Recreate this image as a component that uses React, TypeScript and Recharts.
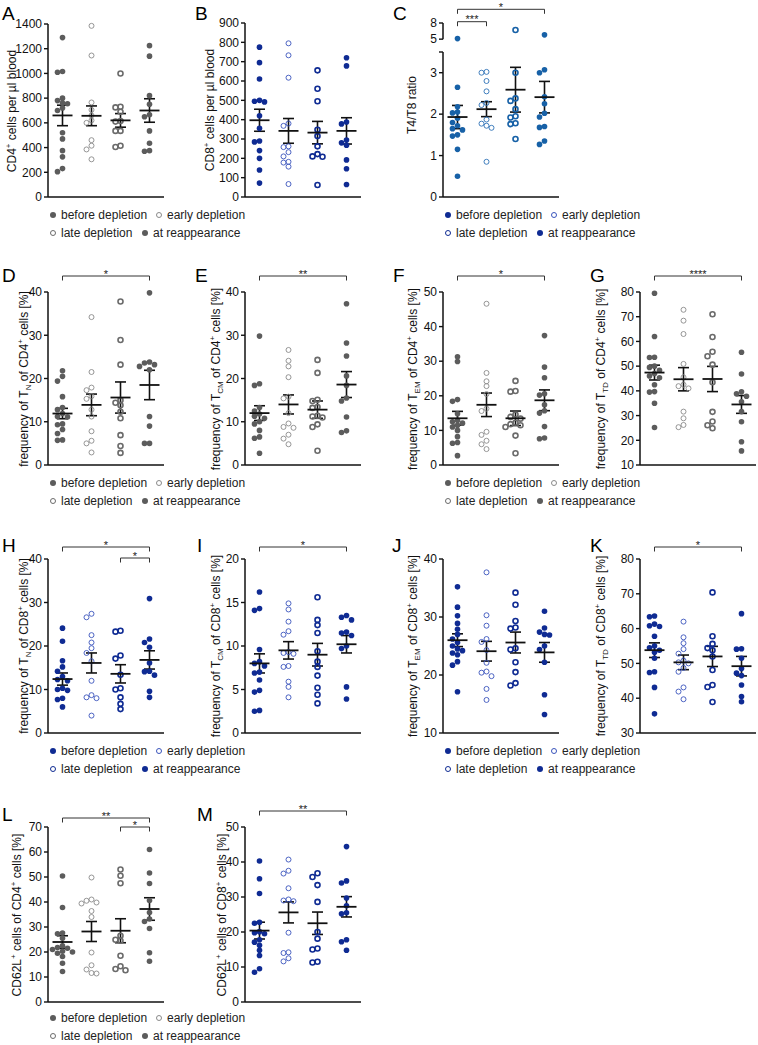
import React from "react";
import {
  ScatterChart,
  Scatter,
  XAxis,
  YAxis,
  ErrorBar,
  ReferenceLine,
} from "recharts";

const FONT = '"Liberation Sans", Arial, Helvetica, sans-serif';

const groups = ["before depletion", "early depletion", "late depletion", "at reappearance"];

// A - CD4+ cells per µl blood
const cd4Count = [
  [1290, 1015, 1010, 800, 780, 760, 755, 720, 700, 520, 470, 375, 325, 230, 205],
  [1385, 1145, 765, 705, 660, 620, 600, 460, 415, 385, 305],
  [1000, 730, 725, 690, 615, 610, 535, 535, 415, 405],
  [1225, 1140, 820, 750, 665, 650, 535, 435, 375, 370],
];
const cd4CountMean = [660, 657, 620, 700];
const cd4CountSem = [83, 80, 55, 95];
const cd4CountTicks = [0, 200, 400, 600, 800, 1000, 1200, 1400];

// B - CD8+ cells per µl blood
const cd8Count = [
  [775, 695, 610, 500, 495, 492, 420, 355, 290, 285, 240, 200, 140, 72],
  [795, 733, 617, 380, 368, 262, 258, 232, 210, 182, 178, 157, 67],
  [655, 560, 495, 348, 315, 262, 222, 210, 208, 62],
  [720, 678, 388, 378, 295, 280, 268, 192, 146, 65],
];
const cd8CountMean = [397, 342, 333, 342];
const cd8CountSem = [57, 64, 58, 68];
const cd8CountTicks = [0, 100, 200, 300, 400, 500, 600, 700, 800, 900];

// C - T4/T8 ratio (broken axis between 3.5 and 5)
const ratio = [
  [5.1, 2.65, 2.18, 2.05, 2.03, 1.9, 1.8, 1.72, 1.65, 1.62, 1.5, 1.47, 1.15, 0.5],
  [3.02, 3.0, 2.8, 2.55, 2.27, 2.22, 1.87, 1.77, 1.72, 1.67, 0.85],
  [6.7, 3.0, 2.38, 2.32, 2.12, 1.95, 1.92, 1.78, 1.76, 1.4],
  [5.8, 3.07, 3.0, 2.42, 2.25, 2.02, 1.93, 1.7, 1.68, 1.35, 1.27],
];
const ratioMean = [1.93, 2.12, 2.59, 2.41];
const ratioSem = [0.28, 0.18, 0.54, 0.38];
const ratioTicks = [0, 1, 2, 3, 3.5, 5, 8];
const ratioTickLabels = ["0", "1", "2", "3", "", "5", "8"];

// D - TN of CD4
const tnCd4 = [
  [21.8, 20.5, 19.4, 15.8, 13.3, 12.8, 11.9, 11.2, 11.1, 9.5, 9.3, 8.2, 7.3, 5.8, 5.7],
  [34.2, 21.5, 17.9, 17.3, 15.9, 15.3, 12.8, 11.2, 7.8, 5.6, 5.0, 2.9],
  [37.8, 28.9, 23.2, 15.0, 14.4, 13.8, 12.3, 10.8, 6.9, 4.4, 2.8],
  [39.8, 23.8, 23.6, 23.2, 22.8, 22.0, 11.2, 9.0, 5.0, 5.0],
];
const tnCd4Mean = [11.9, 13.9, 15.6, 18.5];
const tnCd4Sem = [1.2, 2.5, 3.6, 3.4];

// E - TCM of CD4
const tcmCd4 = [
  [29.8, 18.8, 18.4, 13.3, 12.5, 11.8, 11.3, 10.8, 10.0, 9.5, 8.0, 6.5, 6.2, 2.7],
  [26.6, 24.1, 22.8, 20.3, 15.8, 15.4, 12.0, 9.6, 8.8, 8.6, 7.0, 6.1, 4.8],
  [24.3, 21.3, 15.1, 14.8, 13.4, 13.2, 11.4, 11.2, 11.0, 9.4, 8.8, 3.3],
  [37.3, 28.2, 25.2, 20.6, 18.4, 15.5, 14.8, 11.1, 7.9, 7.5],
];
const tcmCd4Mean = [12.0, 14.0, 12.8, 18.6];
const tcmCd4Sem = [1.7, 2.2, 2.0, 3.0];

// F - TEM of CD4
const temCd4 = [
  [31.3, 29.9, 18.9, 18.4, 14.8, 12.9, 12.5, 12.1, 11.5, 11.0, 10.0, 8.2, 6.5, 6.3, 2.7],
  [46.6, 26.6, 24.2, 22.8, 20.5, 16.3, 15.6, 9.6, 8.7, 7.0, 6.0, 4.6],
  [24.3, 21.4, 21.2, 14.6, 13.9, 13.4, 12.2, 11.8, 11.5, 11.0, 8.5, 3.4],
  [37.4, 28.3, 25.2, 20.6, 20.2, 17.4, 15.7, 15.0, 11.1, 7.8, 7.6],
];
const temCd4Mean = [13.5, 17.4, 13.5, 18.7];
const temCd4Sem = [2.0, 3.4, 2.1, 3.0];

// G - TTD of CD4
const ttdCd4 = [
  [79.5, 62, 53.6, 53.5, 50, 49.5, 48.3, 47, 46, 45.3, 42.5, 39.7, 39.5, 35, 25.2],
  [72.8, 68.4, 63, 50.9, 45.5, 42.5, 41.9, 41, 31.6, 28.9, 26.2, 25.3],
  [71, 61.8, 55.8, 54, 50.6, 43.5, 31.5, 27.6, 26.1, 24.9],
  [55.6, 46.8, 39.6, 38.8, 37.8, 35.6, 31.6, 27.5, 19.4, 15.7],
];
const ttdCd4Mean = [47.4, 44.7, 44.8, 34.5];
const ttdCd4Sem = [3.0, 4.7, 5.1, 3.6];

// H - TN of CD8
const tnCd8 = [
  [24.1, 21.1, 16.6, 15.2, 14.2, 13.0, 12.3, 12.0, 10.3, 10.0, 9.8, 8.0, 7.7, 6.0],
  [27.4, 26.6, 22.5, 20.8, 19.5, 18.4, 16.5, 12.0, 8.7, 8.2, 8.0, 4.0],
  [23.5, 23.3, 17.8, 17.1, 13.4, 10.3, 10.0, 8.2, 6.7, 5.5],
  [30.9, 21.6, 20.8, 19.7, 16.1, 14.2, 14.1, 13.3, 9.6, 8.2],
];
const tnCd8Mean = [12.4, 16.1, 13.6, 16.8];
const tnCd8Sem = [1.4, 2.3, 2.1, 2.1];

// I - TCM of CD8
const tcmCd8 = [
  [16.2, 14.3, 14.1, 9.6, 8.2, 8.0, 7.7, 7.0, 6.9, 6.1, 4.9, 4.7, 2.6, 2.5],
  [14.9, 14.2, 12.8, 11.7, 11.3, 9.3, 9.2, 9.1, 7.7, 7.6, 5.9, 5.3, 4.1],
  [15.6, 13.0, 12.4, 11.5, 9.4, 8.2, 7.6, 6.6, 5.2, 4.4, 3.4],
  [13.5, 13.3, 13.0, 11.6, 11.5, 11.2, 10.0, 9.7, 5.3, 3.9],
];
const tcmCd8Mean = [8.0, 9.5, 9.0, 10.2];
const tcmCd8Sem = [1.1, 1.0, 1.3, 1.0];

// J - TEM of CD8
const temCd8 = [
  [35.2, 31.7, 30.2, 28.9, 27.9, 27.0, 26.2, 25.6, 25.0, 24.5, 24.2, 23.8, 23.5, 22.3, 21.7, 17.1],
  [37.7, 30.3, 28.5, 26.2, 25.7, 24.3, 22.1, 20.6, 20.4, 19.8, 17.6, 15.7],
  [34.2, 32.1, 29.3, 28.2, 28.0, 24.6, 24.4, 22.2, 20.5, 18.6, 18.2],
  [31.0, 28.1, 27.4, 27.0, 26.9, 25.0, 24.4, 22.2, 16.6, 13.2],
];
const temCd8Mean = [26.0, 24.1, 25.6, 23.9];
const temCd8Sem = [1.1, 1.7, 1.8, 1.7];

// K - TTD of CD8
const ttdCd8 = [
  [63.6, 63.4, 61.3, 60.8, 60.6, 57.8, 55.0, 54.5, 53.8, 53.2, 51.5, 47.6, 47.4, 43.1, 35.5],
  [62.0, 57.5, 55.8, 54.1, 52.8, 50.8, 50.3, 50.0, 48.7, 47.6, 43.1, 41.9, 39.7],
  [70.4, 57.8, 55.6, 54.4, 53.8, 52.0, 48.1, 43.8, 43.2, 38.9],
  [64.3, 54.2, 54.1, 51.5, 48.5, 47.2, 46.5, 43.8, 40.5, 39.0],
];
const ttdCd8Mean = [53.8, 50.3, 52.0, 49.2];
const ttdCd8Sem = [2.1, 2.1, 2.9, 2.8];

// L - CD62L+ of CD4
const cd62lCd4 = [
  [50.4, 37.8, 27.6, 27.3, 25.5, 22.5, 21.8, 21.5, 21.0, 20.3, 20.0, 19.5, 18.2, 15.5, 12.2],
  [49.8, 41.0, 40.5, 39.8, 39.4, 36.4, 34.0, 19.8, 14.7, 13.0, 11.6, 11.4],
  [53.0, 50.5, 47.5, 26.5, 24.9, 24.5, 18.5, 14.3, 13.2, 12.7],
  [61.0, 51.6, 47.4, 40.6, 35.8, 33.2, 32.2, 29.4, 19.7, 16.3],
];
const cd62lCd4Mean = [24.0, 28.2, 28.5, 37.2];
const cd62lCd4Sem = [2.5, 4.0, 4.8, 4.5];

// M - CD62L+ of CD8
const cd62lCd8 = [
  [40.3, 35.2, 31.0, 22.8, 22.5, 20.1, 19.8, 19.5, 17.8, 17.1, 16.2, 14.8, 13.3, 9.5, 8.5],
  [40.7, 37.5, 36.7, 32.5, 29.3, 29.0, 28.8, 19.8, 14.2, 14.0, 12.5, 11.6],
  [36.8, 35.7, 33.4, 28.6, 20.0, 18.1, 15.3, 15.0, 11.5, 11.3],
  [44.4, 34.6, 34.0, 29.7, 27.5, 25.5, 25.2, 17.8, 17.2, 14.8],
];
const cd62lCd8Mean = [20.4, 25.6, 22.5, 27.2];
const cd62lCd8Sem = [2.4, 3.0, 3.2, 2.9];

const ticks0to40 = [0, 10, 20, 30, 40];
const ticks0to50 = [0, 10, 20, 30, 40, 50];
const ticks10to80 = [10, 20, 30, 40, 50, 60, 70, 80];
const ticks0to20 = [0, 5, 10, 15, 20];
const ticks10to40 = [10, 20, 30, 40];
const ticks30to80 = [30, 40, 50, 60, 70, 80];
const ticks0to70 = [0, 10, 20, 30, 40, 50, 60, 70];

type Theme = { fill: string; early: string; late: string };
const grey: Theme = { fill: "#5c5c5c", early: "#8a8a8a", late: "#6b6b6b" };
const navy: Theme = { fill: "#0f2b93", early: "#3a54bc", late: "#0f2b93" };
const steel: Theme = { fill: "#1761a7", early: "#2e72b7", late: "#1761a7" };

// broken axis for panel C: values above the gap are squeezed
const ratioDisplay = (v: number) => (v <= 3.5 ? v : 3.81 + (v - 5) * 0.13);

const PLOT_W = 116;
const PX_PER_GROUP = PLOT_W / 4;
const PAD = 10; // room above/below the plot for tick labels and stars

// deterministic beeswarm (prism style): stack close values side by side
function swarm(vals: number[], center: number, ppu: number): number[] {
  const order = vals.map((_, i) => i).sort((p, q) => vals[q] - vals[p]);
  const placed: { x: number; y: number }[] = [];
  const out: number[] = vals.map(() => center);
  for (const i of order) {
    const y = vals[i] * ppu;
    for (let k = 0; k < 20; k++) {
      const off = k === 0 ? 0 : (k % 2 ? -1 : 1) * Math.ceil(k / 2) * 5;
      if (placed.every((p) => Math.hypot(p.x - off, p.y - y) >= 4.8)) {
        placed.push({ x: off, y });
        out[i] = center + off / PX_PER_GROUP;
        break;
      }
    }
  }
  return out;
}

const dotShape = (color: string, open: boolean, sw: number) => (props: any) => {
  const { cx, cy } = props;
  if (cx == null || cy == null) return <g />;
  return (
    <circle
      cx={cx}
      cy={cy}
      r={open ? 2.5 : 2.8}
      fill={open ? "none" : color}
      stroke={open ? color : "none"}
      strokeWidth={sw}
    />
  );
};

const meanShape = (props: any) => {
  const { cx, cy } = props;
  if (cx == null || cy == null) return <g />;
  return <line x1={cx - 10} x2={cx + 10} y1={cy} y2={cy} stroke="#111" strokeWidth={1.8} />;
};

const starShape = (props: any) => {
  const { cx, cy, payload } = props;
  if (cx == null || cy == null) return <g />;
  return (
    <text
      x={cx}
      y={cy + 1.5}
      textAnchor="middle"
      fontSize={11}
      fontFamily={FONT}
      fill="#222"
      stroke="none"
    >
      {payload.text}
    </text>
  );
};

type Bracket = { a: number; b: number; text: string; y: number };

interface PanelProps {
  letter: string;
  letterX: number;
  letterY: number;
  axisX: number;
  plotTop: number;
  axisTop: number;
  axisBottom: number;
  ticks: number[];
  tickLabels?: string[];
  display?: (v: number) => number;
  axisParts?: [number, number][];
  values: number[][];
  mean: number[];
  sem: number[];
  theme: Theme;
  brackets?: Bracket[];
  label: React.ReactNode;
  labelX: number;
  labelY?: number;
}

const Panel: React.FC<PanelProps> = (p) => {
  const disp = p.display ?? ((v: number) => v);
  const dTicks = p.ticks.map(disp);
  const yMin = dTicks[0];
  const yMax = dTicks[dTicks.length - 1];
  const ppu = (p.axisBottom - p.axisTop) / (yMax - yMin);
  const domTop = yMax + (p.axisTop - p.plotTop) / ppu;
  const H = PAD + (p.axisBottom - p.plotTop) + 1 + PAD;
  const parts = p.axisParts ?? [[yMin, yMax]];
  const toData = (py: number) => yMin + (p.axisBottom - py) / ppu;
  const tickLen = 4.5 / ppu;

  const markers = [
    dotShape(p.theme.fill, false, 0),
    dotShape(p.theme.early, true, 0.9),
    dotShape(p.theme.late, true, 1.6),
    dotShape(p.theme.fill, false, 0),
  ];

  const series = p.values.map((vals, gi) => {
    const dv = vals.map(disp);
    const xs = swarm(dv.map((v) => v - yMin), gi + 1, ppu);
    return dv.map((v, k) => ({ x: xs[k], y: v }));
  });
  const meanData = p.mean.map((m, gi) => ({ x: gi + 1, y: disp(m), err: p.sem[gi] }));
  const starData = (p.brackets ?? []).map((b) => ({ x: (b.a + b.b) / 2, y: toData(b.y), text: b.text }));

  return (
    <>
      <div
        style={{
          position: "absolute",
          left: p.letterX,
          top: p.letterY - 2.5,
          fontSize: 19,
          lineHeight: "19px",
          fontFamily: FONT,
          color: "#000",
        }}
      >
        {p.letter}
      </div>
      <div
        style={{
          position: "absolute",
          left: p.labelX,
          top: p.labelY ?? (p.axisTop + p.axisBottom) / 2,
          transform: "translate(-50%, -50%) rotate(-90deg)",
          whiteSpace: "nowrap",
          fontSize: 12,
          lineHeight: "14px",
          fontFamily: FONT,
          color: "#111",
        }}
      >
        {p.label}
      </div>
      <div style={{ position: "absolute", left: p.axisX - 45, top: p.plotTop - PAD }}>
        <ScatterChart width={165} height={H} margin={{ top: PAD, right: 4, bottom: PAD, left: 5 }}>
          <XAxis
            type="number"
            dataKey="x"
            domain={[0.5, 4.5]}
            ticks={[]}
            tick={false}
            tickLine={false}
            axisLine={{ stroke: "#111", strokeWidth: 1.5 }}
            height={1}
          />
          <YAxis
            type="number"
            dataKey="y"
            domain={[yMin, domTop]}
            ticks={dTicks}
            interval={0}
            tickFormatter={(v: number) => {
              const i = dTicks.indexOf(v);
              return p.tickLabels ? p.tickLabels[i] : String(p.ticks[i] ?? v);
            }}
            axisLine={false}
            tickLine={{ stroke: "#111", strokeWidth: 1.4 }}
            tickSize={4}
            tick={{ fontSize: 12, fill: "#111", fontFamily: FONT }}
            width={40}
          />
          {parts.map(([lo, hi], i) => (
            <ReferenceLine
              key={`ax${i}`}
              segment={[
                { x: 0.5, y: lo },
                { x: 0.5, y: hi },
              ]}
              stroke="#111"
              strokeWidth={1.5}
            />
          ))}
          {(p.brackets ?? []).flatMap((b, i) => {
            const y = toData(b.y);
            return [
              <ReferenceLine
                key={`bh${i}`}
                segment={[
                  { x: b.a, y },
                  { x: b.b, y },
                ]}
                stroke="#333"
                strokeWidth={1}
              />,
              <ReferenceLine
                key={`bl${i}`}
                segment={[
                  { x: b.a, y },
                  { x: b.a, y: y - tickLen },
                ]}
                stroke="#333"
                strokeWidth={1}
              />,
              <ReferenceLine
                key={`br${i}`}
                segment={[
                  { x: b.b, y },
                  { x: b.b, y: y - tickLen },
                ]}
                stroke="#333"
                strokeWidth={1}
              />,
            ];
          })}
          {series.map((data, gi) => (
            <Scatter
              key={groups[gi]}
              name={groups[gi]}
              data={data}
              shape={markers[gi]}
              isAnimationActive={false}
            />
          ))}
          <Scatter data={meanData} shape={meanShape} isAnimationActive={false}>
            <ErrorBar
              dataKey="err"
              direction="y"
              width={5.5}
              stroke="#111"
              strokeWidth={1.6}
              isAnimationActive={false}
            />
          </Scatter>
          {starData.length > 0 && (
            <Scatter data={starData} shape={starShape} isAnimationActive={false} />
          )}
        </ScatterChart>
      </div>
    </>
  );
};

const LegendMark: React.FC<{ x: number; y: number; color: string; open: boolean; sw: number }> = ({
  x,
  y,
  color,
  open,
  sw,
}) => (
  <div
    style={{
      position: "absolute",
      left: x - 3,
      top: y - 3,
      width: 6,
      height: 6,
      boxSizing: "border-box",
      borderRadius: "50%",
      background: open ? "transparent" : color,
      border: open ? `${sw}px solid ${color}` : "none",
    }}
  />
);

const LegendText: React.FC<{ x: number; y: number; text: string }> = ({ x, y, text }) => (
  <div
    style={{
      position: "absolute",
      left: x,
      top: y - 7,
      fontSize: 12,
      lineHeight: "14px",
      fontFamily: FONT,
      color: "#222",
      whiteSpace: "nowrap",
    }}
  >
    {text}
  </div>
);

const GroupLegend: React.FC<{ x: number; y: number; theme: Theme }> = ({ x, y, theme }) => (
  <>
    <LegendMark x={x + 5} y={y} color={theme.fill} open={false} sw={0} />
    <LegendText x={x + 13} y={y} text={groups[0]} />
    <LegendMark x={x + 111} y={y} color={theme.early} open sw={1} />
    <LegendText x={x + 119} y={y} text={groups[1]} />
    <LegendMark x={x + 5} y={y + 18} color={theme.late} open sw={1.6} />
    <LegendText x={x + 13} y={y + 18} text={groups[2]} />
    <LegendMark x={x + 97} y={y + 18} color={theme.fill} open={false} sw={0} />
    <LegendText x={x + 105} y={y + 18} text={groups[3]} />
  </>
);

const sup = (t: string) => (
  <sup style={{ fontSize: 8, lineHeight: 0, verticalAlign: "super" }}>{t}</sup>
);
const sub = (t: string) => (
  <sub style={{ fontSize: 8, lineHeight: 0, verticalAlign: "sub" }}>{t}</sub>
);

const freqLabel = (subset: string, cd: string) => (
  <>
    frequency of T{sub(subset)} of {cd}
    {sup("+")} cells [%]
  </>
);

const col = [48, 245, 443, 640];

export default function App() {
  return (
    <div
      style={{
        position: "absolute",
        left: 0,
        top: 0,
        width: 758,
        height: 1045,
        background: "#fff",
        overflow: "hidden",
      }}
    >
      {/* row 1 */}
      <Panel
        letter="A" letterX={2} letterY={6}
        axisX={col[0]} plotTop={0} axisTop={24} axisBottom={197}
        ticks={cd4CountTicks} values={cd4Count} mean={cd4CountMean} sem={cd4CountSem}
        theme={grey} label={<>CD4{sup("+")} cells per µl blood</>} labelX={12}
      />
      <Panel
        letter="B" letterX={195} letterY={6}
        axisX={col[1]} plotTop={0} axisTop={23} axisBottom={197}
        ticks={cd8CountTicks} values={cd8Count} mean={cd8CountMean} sem={cd8CountSem}
        theme={navy} label={<>CD8{sup("+")} cells per µl blood</>} labelX={210}
      />
      <Panel
        letter="C" letterX={393} letterY={6}
        axisX={col[2]} plotTop={0} axisTop={23} axisBottom={197}
        ticks={ratioTicks} tickLabels={ratioTickLabels} display={ratioDisplay}
        axisParts={[
          [0, 3.5],
          [ratioDisplay(5), ratioDisplay(8)],
        ]}
        values={ratio} mean={ratioMean} sem={ratioSem} theme={steel}
        brackets={[
          { a: 1, b: 2, text: "***", y: 21.7 },
          { a: 1, b: 4, text: "*", y: 9.3 },
        ]}
        label={<>T4/T8 ratio</>} labelX={412} labelY={105}
      />
      <GroupLegend x={col[0]} y={215} theme={grey} />
      <GroupLegend x={col[2]} y={215} theme={navy} />

      {/* row 2 */}
      <Panel
        letter="D" letterX={2} letterY={268}
        axisX={col[0]} plotTop={266} axisTop={292} axisBottom={465}
        ticks={ticks0to40} values={tnCd4} mean={tnCd4Mean} sem={tnCd4Sem} theme={grey}
        brackets={[{ a: 1, b: 4, text: "*", y: 276 }]}
        label={freqLabel("N", "CD4")} labelX={24}
      />
      <Panel
        letter="E" letterX={195} letterY={268}
        axisX={col[1]} plotTop={266} axisTop={292} axisBottom={465}
        ticks={ticks0to40} values={tcmCd4} mean={tcmCd4Mean} sem={tcmCd4Sem} theme={grey}
        brackets={[{ a: 1, b: 4, text: "**", y: 276 }]}
        label={freqLabel("CM", "CD4")} labelX={216}
      />
      <Panel
        letter="F" letterX={393} letterY={268}
        axisX={col[2]} plotTop={266} axisTop={292} axisBottom={465}
        ticks={ticks0to50} values={temCd4} mean={temCd4Mean} sem={temCd4Sem} theme={grey}
        brackets={[{ a: 1, b: 4, text: "*", y: 276 }]}
        label={freqLabel("EM", "CD4")} labelX={413}
      />
      <Panel
        letter="G" letterX={590} letterY={268}
        axisX={col[3]} plotTop={266} axisTop={292} axisBottom={465}
        ticks={ticks10to80} values={ttdCd4} mean={ttdCd4Mean} sem={ttdCd4Sem} theme={grey}
        brackets={[{ a: 1, b: 4, text: "****", y: 276 }]}
        label={freqLabel("TD", "CD4")} labelX={601}
      />
      <GroupLegend x={col[0]} y={483} theme={grey} />
      <GroupLegend x={col[2]} y={483} theme={grey} />

      {/* row 3 */}
      <Panel
        letter="H" letterX={2} letterY={538}
        axisX={col[0]} plotTop={532} axisTop={559} axisBottom={733}
        ticks={ticks0to40} values={tnCd8} mean={tnCd8Mean} sem={tnCd8Sem} theme={navy}
        brackets={[
          { a: 1, b: 4, text: "*", y: 547 },
          { a: 3, b: 4, text: "*", y: 558 },
        ]}
        label={freqLabel("N", "CD8")} labelX={24}
      />
      <Panel
        letter="I" letterX={197} letterY={538}
        axisX={col[1]} plotTop={532} axisTop={559} axisBottom={733}
        ticks={ticks0to20} values={tcmCd8} mean={tcmCd8Mean} sem={tcmCd8Sem} theme={navy}
        brackets={[{ a: 1, b: 4, text: "*", y: 547 }]}
        label={freqLabel("CM", "CD8")} labelX={216}
      />
      <Panel
        letter="J" letterX={392} letterY={538}
        axisX={col[2]} plotTop={532} axisTop={559} axisBottom={733}
        ticks={ticks10to40} values={temCd8} mean={temCd8Mean} sem={temCd8Sem} theme={navy}
        label={freqLabel("EM", "CD8")} labelX={413}
      />
      <Panel
        letter="K" letterX={590} letterY={538}
        axisX={col[3]} plotTop={532} axisTop={559} axisBottom={733}
        ticks={ticks30to80} values={ttdCd8} mean={ttdCd8Mean} sem={ttdCd8Sem} theme={navy}
        brackets={[{ a: 1, b: 4, text: "*", y: 547 }]}
        label={freqLabel("TD", "CD8")} labelX={601}
      />
      <GroupLegend x={col[0]} y={751} theme={navy} />
      <GroupLegend x={col[2]} y={751} theme={navy} />

      {/* row 4 */}
      <Panel
        letter="L" letterX={2} letterY={807}
        axisX={col[0]} plotTop={798} axisTop={827} axisBottom={1002}
        ticks={ticks0to70} values={cd62lCd4} mean={cd62lCd4Mean} sem={cd62lCd4Sem} theme={grey}
        brackets={[
          { a: 1, b: 4, text: "**", y: 818 },
          { a: 3, b: 4, text: "*", y: 827 },
        ]}
        label={<>CD62L{sup("+")} cells of CD4{sup("+")} cells [%]</>} labelX={17}
      />
      <Panel
        letter="M" letterX={197} letterY={807}
        axisX={col[1]} plotTop={798} axisTop={827} axisBottom={1002}
        ticks={ticks0to50} values={cd62lCd8} mean={cd62lCd8Mean} sem={cd62lCd8Sem} theme={navy}
        brackets={[{ a: 1, b: 4, text: "**", y: 811 }]}
        label={<>CD62L{sup("+")} cells of CD8{sup("+")} cells [%]</>} labelX={222}
      />
      <GroupLegend x={col[0]} y={1018} theme={grey} />
    </div>
  );
}
